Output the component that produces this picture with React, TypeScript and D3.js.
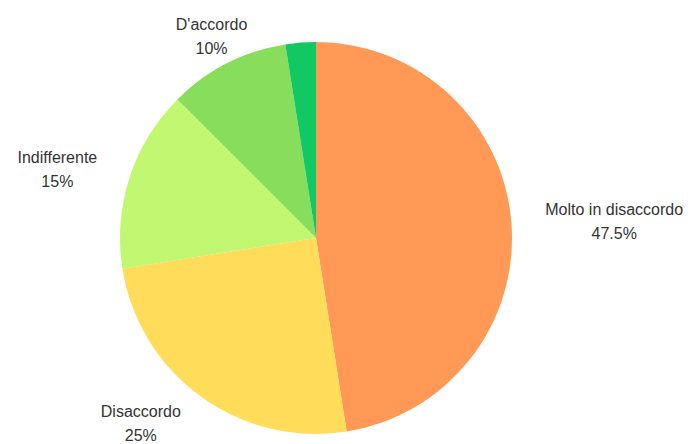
import React, { useEffect, useRef } from "react";
import * as d3 from "d3";

const categories = ["Molto in disaccordo", "Disaccordo", "Indifferente", "D'accordo", "Molto d'accordo"];
const values = [47.5, 25, 15, 10, 2.5];
const labels = ["47.5%", "25%", "15%", "10%", ""];
const colors = ["#FF9955", "#FFDC5A", "#C2F772", "#88DD5C", "#12C862"];

const W = 691;
const H = 444;

export default function App() {
  const ref = useRef<SVGSVGElement>(null);

  useEffect(() => {
    const svg = d3.select(ref.current);
    svg.selectAll("*").remove();
    const cx = 316, cy = 238, r = 196;
    const g = svg.append("g").attr("transform", `translate(${cx},${cy})`);
    const data = categories.map((c, i) => ({ c, v: values[i], l: labels[i], col: colors[i] }));
    const pie = d3.pie<any>().value((d) => d.v).sort(null);
    const arcs = pie(data);
    const arc = d3.arc<any>().innerRadius(0).outerRadius(r);
    g.selectAll("path").data(arcs).join("path").attr("d", arc).attr("fill", (d) => d.data.col);

    arcs.forEach((a) => {
      if (!a.data.l) return;
      const mid = (a.startAngle + a.endAngle) / 2;
      const dx = Math.sin(mid), dy = -Math.cos(mid);
      const t = g.append("text")
        .attr("font-family", "'Liberation Sans', Arial, sans-serif")
        .attr("font-size", 16)
        .attr("fill", "#333")
        .attr("text-anchor", "middle");
      const s1 = t.append("tspan").attr("x", 0).attr("y", -4).text(a.data.c);
      const s2 = t.append("tspan").attr("x", 0).attr("y", 20).text(a.data.l);
      const w = Math.max(
        (s1.node() as SVGTSpanElement).getComputedTextLength(),
        (s2.node() as SVGTSpanElement).getComputedTextLength()
      );
      const side = Math.abs(dx) < 0.5 ? 0 : Math.sign(dx);
      const bx = dx * (r + 34) + side * w / 2;
      const by = dy * (r + 32) - 1;
      t.attr("transform", `translate(${bx},${by})`);
    });
  }, []);

  return <svg ref={ref} width={W} height={H} style={{ display: "block", position: "absolute", left: 0, top: 0, background: "#fff" }} />;
}
